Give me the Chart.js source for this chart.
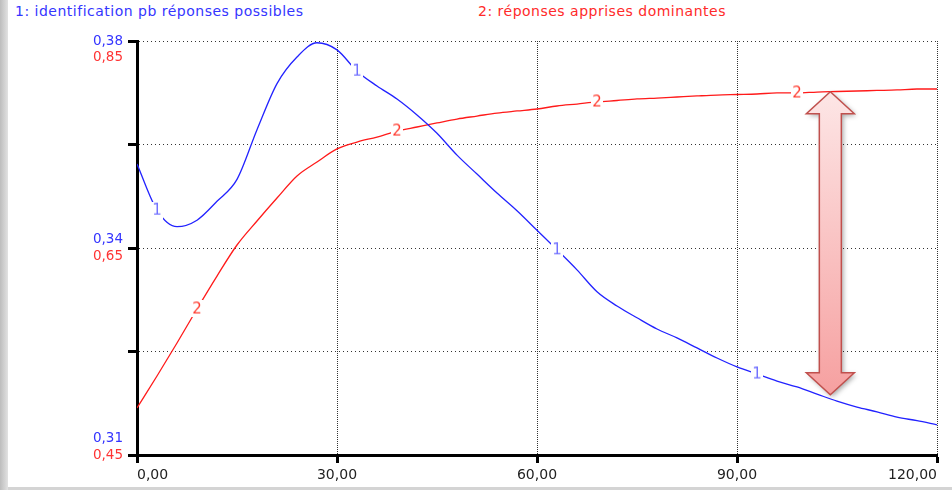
<!DOCTYPE html>
<html>
<head>
<meta charset="utf-8">
<title>identification / réponses apprises</title>
<script src="https://cdn.jsdelivr.net/npm/chart.js"></script>
<style>
  html, body { margin: 0; padding: 0; }
  body {
    width: 952px;
    height: 490px;
    position: relative;
    overflow: hidden;
    background: #d4d4d4;
    font-family: "DejaVu Sans", sans-serif;
  }
  #sheet { position: absolute; left: 8px; top: 0; width: 944px; height: 487px; background: #fff; }
  #edge {
    position: absolute; left: 0; top: 0; width: 8px; height: 490px;
    background: linear-gradient(to right, #bdbdbd, #e2e2e2);
  }
  #myChart { position: absolute; left: 0; top: 0; }
  .legend { position: absolute; top: 3px; font-size: 14px; letter-spacing: 0.5px; white-space: nowrap; }
</style>
</head>
<body>
<div id="edge"></div>
<div id="sheet"></div>
<span class="legend" style="left:15px; color:#3535ff">1: identification pb réponses possibles</span>
<span class="legend" style="left:478px; color:#ff2a2a">2: réponses apprises dominantes</span>
<canvas id="myChart" width="952" height="490"></canvas>
<script>
// temps de simulation (axe x)
const times = [0, 3, 6, 9, 12, 15, 18, 21, 24, 27, 30, 33, 36, 39, 42, 45, 48, 51, 54, 57, 60,
  63, 66, 69, 72, 75, 78, 81, 84, 87, 90, 93, 96, 99, 102, 105, 108, 111, 114, 117, 120];

// 1: identification pb réponses possibles
const identification = [0.3592, 0.3514, 0.3486, 0.3497, 0.3529, 0.3566, 0.3650, 0.3728, 0.3773, 0.3797,
  0.3785, 0.3749, 0.3724, 0.3702, 0.3675, 0.3644, 0.3607, 0.3575, 0.3543, 0.3513,
  0.3480, 0.3447, 0.3413, 0.3376, 0.3352, 0.3332, 0.3313, 0.3298, 0.3281, 0.3264,
  0.3249, 0.3237, 0.3225, 0.3215, 0.3203, 0.3191, 0.3181, 0.3173, 0.3164, 0.3158, 0.3151];

// 2: réponses apprises dominantes
const reponses = [0.4954, 0.5263, 0.5582, 0.5911, 0.6229, 0.6529, 0.6761, 0.6983, 0.7196, 0.7331,
  0.7457, 0.7524, 0.7572, 0.7630, 0.7669, 0.7708, 0.7746, 0.7775, 0.7804, 0.7824,
  0.7843, 0.7872, 0.7891, 0.7911, 0.7925, 0.7940, 0.7949, 0.7959, 0.7969, 0.7978,
  0.7983, 0.7988, 0.7998, 0.7998, 0.8007, 0.8012, 0.8017, 0.8022, 0.8027, 0.8036, 0.8036];

const xTickValues = [0, 30, 60, 90, 120];
const xTickLabels = ['0,00', '30,00', '60,00', '90,00', '120,00'];
const blueTickValues = [0.31, 0.3275, 0.345, 0.3625, 0.38];
const blueTickLabels = ['0,31', '', '0,34', '', '0,38'];
const redTickValues = [0.45, 0.55, 0.65, 0.75, 0.85];
const redTickLabels = ['0,45', '', '0,65', '', '0,85'];

// points qui portent le numéro de la courbe
const blueTagIndex = [1, 11, 21, 31];
const redTagIndex = [3, 13, 23, 33];

// flèche entre les deux courbes
const arrowAt = 104;

const FONT = 'DejaVu Sans';

function makeTag(text, color) {
  const c = document.createElement('canvas');
  c.width = 12;
  c.height = 17;
  const g = c.getContext('2d');
  g.fillStyle = '#fff';
  g.fillRect(0, 0, c.width, c.height);
  g.fillStyle = color;
  g.font = '15px "' + FONT + '"';
  g.textAlign = 'center';
  g.textBaseline = 'middle';
  g.fillText(text, 6, 9);
  return c;
}

// empile les libellés bleu/rouge sur le même axe
function stackLabel(text, above, below) {
  if (!text) return '';
  const lines = [];
  for (let i = 0; i < above; i++) lines.push('');
  lines.push(text);
  for (let i = 0; i < below; i++) lines.push('');
  return lines.length === 1 ? text : lines;
}

function valueAt(series, t) {
  for (let i = 1; i < times.length; i++) {
    if (t <= times[i]) {
      const f = (t - times[i - 1]) / (times[i] - times[i - 1]);
      return series[i - 1] + f * (series[i] - series[i - 1]);
    }
  }
  return series[series.length - 1];
}

// l'axe rouge n'a pas de largeur : on élargit sa zone de dessin des libellés
const sharedAxis = {
  id: 'sharedAxis',
  afterLayout(chart) {
    chart.scales.yRed.left = chart.scales.yBlue.left;
  }
};

const gapArrow = {
  id: 'gapArrow',
  afterDatasetsDraw(chart) {
    const { ctx, scales } = chart;
    const cx = scales.x.getPixelForValue(arrowAt);
    const top = scales.yRed.getPixelForValue(valueAt(reponses, arrowAt));
    const bottom = scales.yBlue.getPixelForValue(valueAt(identification, arrowAt)) - 4;
    const head = 22, hw = 24, sw = 11;
    ctx.save();
    ctx.beginPath();
    ctx.moveTo(cx, top);
    ctx.lineTo(cx + hw, top + head);
    ctx.lineTo(cx + sw, top + head);
    ctx.lineTo(cx + sw, bottom - head);
    ctx.lineTo(cx + hw, bottom - head);
    ctx.lineTo(cx, bottom);
    ctx.lineTo(cx - hw, bottom - head);
    ctx.lineTo(cx - sw, bottom - head);
    ctx.lineTo(cx - sw, top + head);
    ctx.lineTo(cx - hw, top + head);
    ctx.closePath();
    const grad = ctx.createLinearGradient(0, top, 0, bottom);
    grad.addColorStop(0, '#fde6e6');
    grad.addColorStop(1, '#f6a0a0');
    ctx.shadowColor = 'rgba(0,0,0,0.35)';
    ctx.shadowBlur = 5;
    ctx.shadowOffsetX = 2;
    ctx.shadowOffsetY = 2;
    ctx.fillStyle = grad;
    ctx.fill();
    ctx.shadowColor = 'transparent';
    ctx.strokeStyle = '#c0504d';
    ctx.lineWidth = 1.5;
    ctx.stroke();
    ctx.restore();
  }
};

const blueTag = makeTag('1', '#7272ff');
const redTag = makeTag('2', '#ff3b2f');

new Chart(document.getElementById('myChart'), {
  type: 'line',
  data: {
    datasets: [
      {
        label: '1: identification pb réponses possibles',
        data: times.map((t, i) => ({ x: t, y: identification[i] })),
        yAxisID: 'yBlue',
        borderColor: '#2222ff',
        borderWidth: 1.3,
        cubicInterpolationMode: 'monotone',
        pointStyle: blueTag,
        pointRadius: ctx => (blueTagIndex.includes(ctx.dataIndex) ? 6 : 0)
      },
      {
        label: '2: réponses apprises dominantes',
        data: times.map((t, i) => ({ x: t, y: reponses[i] })),
        yAxisID: 'yRed',
        borderColor: '#ff1a1a',
        borderWidth: 1.3,
        cubicInterpolationMode: 'monotone',
        pointStyle: redTag,
        pointRadius: ctx => (redTagIndex.includes(ctx.dataIndex) ? 6 : 0)
      }
    ]
  },
  options: {
    responsive: false,
    devicePixelRatio: 1,
    animation: false,
    layout: { padding: { left: 0, top: 41, right: 15, bottom: 0 } },
    plugins: {
      legend: { display: false },
      tooltip: { enabled: false }
    },
    scales: {
      x: {
        type: 'linear',
        min: 0,
        max: 120,
        afterBuildTicks: a => { a.ticks = xTickValues.map(v => ({ value: v })); },
        afterFit: a => { a.height = 35; },
        ticks: {
          callback: (v, i) => xTickLabels[i],
          align: 'inner',
          autoSkip: false,
          maxRotation: 0,
          color: '#222',
          font: { family: FONT, size: 14 },
          padding: 4
        },
        grid: { color: '#333', lineWidth: 1, tickColor: '#000', tickWidth: 3, tickLength: 8 },
        border: { display: true, color: '#000', width: 3, dash: [1, 1] }
      },
      yBlue: {
        type: 'linear',
        position: 'left',
        weight: 1,
        min: 0.31,
        max: 0.38,
        afterBuildTicks: a => { a.ticks = blueTickValues.map(v => ({ value: v })); },
        afterFit: a => { a.width = 137; },
        ticks: {
          callback: (v, i) => stackLabel(blueTickLabels[i], 0, i === 0 ? 2 : i === 2 ? 1 : 0),
          autoSkip: false,
          color: '#3333ff',
          font: { family: FONT, size: 13.5, lineHeight: 1.25 },
          padding: 5
        },
        grid: { color: '#333', lineWidth: 1, tickColor: '#000', tickWidth: 3, tickLength: 9 },
        border: { display: true, color: '#000', width: 3, dash: [1, 3] }
      },
      yRed: {
        type: 'linear',
        position: 'left',
        weight: 0,
        min: 0.45,
        max: 0.85,
        afterBuildTicks: a => { a.ticks = redTickValues.map(v => ({ value: v })); },
        afterFit: a => { a.width = 0; },
        ticks: {
          callback: (v, i) => stackLabel(redTickLabels[i], i === 4 ? 2 : i === 2 ? 1 : 0, 0),
          autoSkip: false,
          color: '#ff3333',
          font: { family: FONT, size: 13.5, lineHeight: 1.25 },
          padding: 5
        },
        grid: { drawOnChartArea: false, tickColor: 'rgba(0,0,0,0)', tickLength: 9 },
        border: { display: false }
      }
    }
  },
  plugins: [sharedAxis, gapArrow]
});
</script>
</body>
</html>
